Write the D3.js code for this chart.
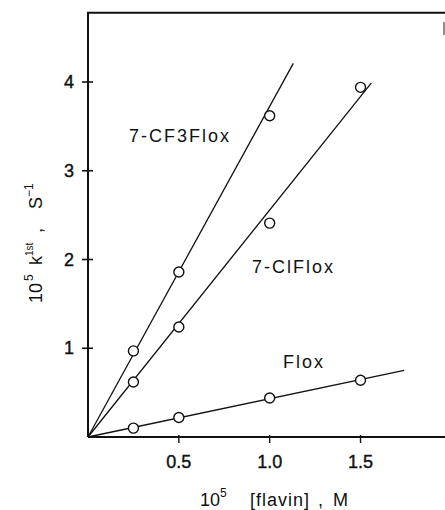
<!DOCTYPE html>
<html lang="en">
<head>
    <meta charset="UTF-8">
    <title>Rate constant vs flavin</title>
    <style>
        body { margin: 0; background: #fff; }
        svg { display: block; }
        .axis-line { stroke: #111; stroke-width: 2; fill: none; }
        .fit { stroke: #111; stroke-width: 1.3; fill: none; }
        .pt { fill: #fff; stroke: #111; stroke-width: 1.4; }
        text { font-family: "Liberation Sans", sans-serif; fill: #111; }
        .tick-label { font-size: 18px; stroke: #111; stroke-width: 0.4; }
        .series-label { font-size: 18px; letter-spacing: 2px; }
    </style>
</head>
<body>
<svg width="445" height="510"></svg>
<script src="https://d3js.org/d3.v7.min.js"></script>
<script>
    // values (x in 10^5 M, y in 10^5 s^-1)
    let concs = [0.25, 0.5, 1.0, 1.5];
    let cf3Vals = [0.97, 1.86, 3.62];
    let clVals = [0.62, 1.24, 2.41, 3.94];
    let floxVals = [0.10, 0.22, 0.44, 0.64];
    // fitted lines: [x, y] start and end
    let cf3Line = [[0, 0], [1.13, 4.21]];
    let clLine = [[0, 0], [1.56, 3.99]];
    let floxLine = [[0, 0], [1.74, 0.75]];
    let xTicks = [0.5, 1.0, 1.5];
    let xTickLabels = ["0.5", "1.0", "1.5"];
    let yTicks = [1, 2, 3, 4];
    let seriesNames = ["7-CF3Flox", "7-ClFlox", "Flox"];

    let svg = d3.select("svg");
    let x = d3.scaleLinear().domain([0, 1.965]).range([88, 445]);
    let y = d3.scaleLinear().domain([0, 4.8]).range([437, 11]);

    // frame
    svg.append("path").attr("class", "axis-line")
        .attr("d", "M" + x(0) + "," + y(0) + "V" + y(4.78) + "H445");
    svg.append("line").attr("class", "axis-line")
        .attr("x1", x(0)).attr("x2", 445).attr("y1", y(0)).attr("y2", y(0));
    svg.append("line").attr("stroke", "#444").attr("stroke-width", 1.2)
        .attr("x1", 444).attr("x2", 444).attr("y1", 22).attr("y2", 35);

    // y ticks
    svg.selectAll(".yt").data(yTicks).enter().append("line")
        .attr("stroke", "#111").attr("stroke-width", 1.6)
        .attr("x1", x(0) - 6).attr("x2", x(0) + 5)
        .attr("y1", d => y(d)).attr("y2", d => y(d));
    svg.selectAll(".yl").data(yTicks).enter().append("text")
        .attr("class", "tick-label")
        .attr("x", x(0) - 14).attr("y", d => y(d) + 6)
        .attr("text-anchor", "end")
        .text(d => d);

    // x ticks
    svg.selectAll(".xt").data(xTicks).enter().append("line")
        .attr("stroke", "#111").attr("stroke-width", 1.4)
        .attr("x1", d => x(d)).attr("x2", d => x(d))
        .attr("y1", y(0) - 2).attr("y2", y(0) + 6);
    svg.selectAll(".xl").data(xTicks).enter().append("text")
        .attr("class", "tick-label")
        .attr("x", d => x(d)).attr("y", 468)
        .attr("text-anchor", "middle")
        .text((d, i) => xTickLabels[i]);

    // fitted lines
    let line = d3.line().x(d => x(d[0])).y(d => y(d[1]));
    [cf3Line, clLine, floxLine].forEach(function (l) {
        svg.append("path").attr("class", "fit").attr("d", line(l));
    });

    // points
    [cf3Vals, clVals, floxVals].forEach(function (vals) {
        svg.selectAll(null).data(vals).enter().append("circle")
            .attr("class", "pt").attr("r", 5)
            .attr("cx", (d, i) => x(concs[i])).attr("cy", d => y(d));
    });

    // series labels
    let labelPos = [[129, 142], [252, 273], [283, 368]];
    seriesNames.forEach(function (n, i) {
        svg.append("text").attr("class", "series-label")
            .attr("x", labelPos[i][0]).attr("y", labelPos[i][1])
            .text(n);
    });

    // axis titles
    let xt = svg.append("text").attr("y", 506).style("font-size", "18px");
    xt.append("tspan").attr("x", 200).text("10");
    xt.append("tspan").attr("dy", -9).style("font-size", "12px").text("5");
    xt.append("tspan").attr("x", 250).attr("dy", 9).style("letter-spacing", "1px").text("[flavin]");
    xt.append("tspan").attr("x", 318).text(",");
    xt.append("tspan").attr("x", 333).text("M");

    let yt = svg.append("text").attr("transform", "translate(42,303) rotate(-90)")
        .style("font-size", "18px");
    yt.append("tspan").attr("x", 0).text("10");
    yt.append("tspan").attr("x", 22).attr("dy", -9).style("font-size", "12px").text("5");
    yt.append("tspan").attr("x", 38).attr("dy", 9).text("k");
    yt.append("tspan").attr("dy", -9).style("font-size", "10px").text("1st");
    yt.append("tspan").attr("x", 70).attr("dy", 9).text(",");
    yt.append("tspan").attr("x", 94).text("S");
    yt.append("tspan").attr("dy", -9).style("font-size", "12px").text("\u22121");
</script>
</body>
</html>
